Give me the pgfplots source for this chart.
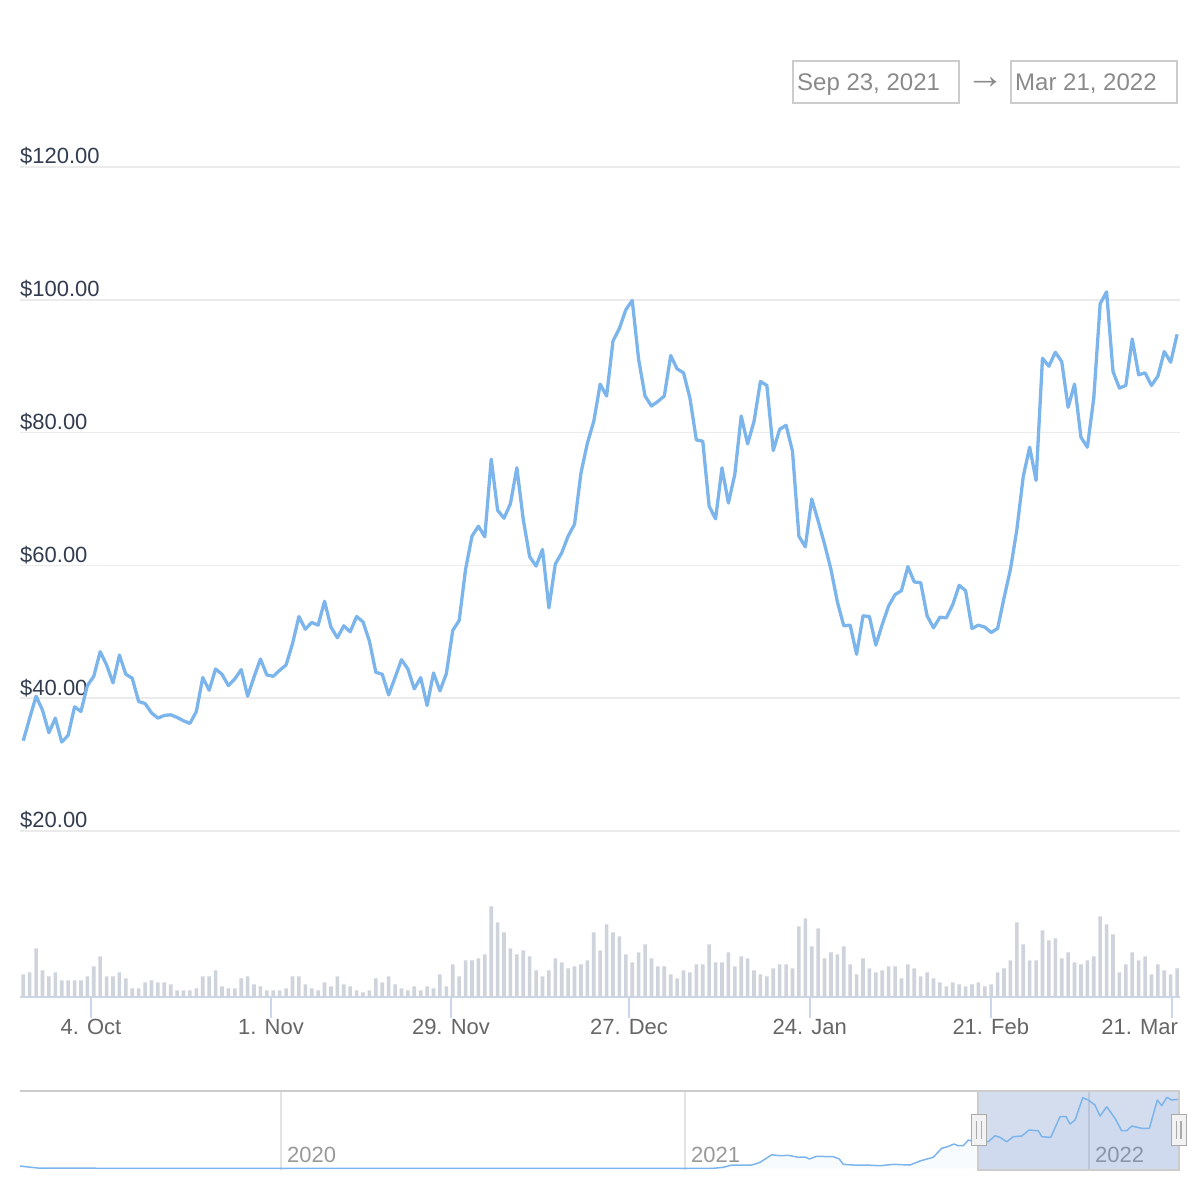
\documentclass[border=0pt]{standalone}
\usepackage{fontspec}
\setmainfont{Liberation Sans}
\usepackage{pgfplots}
\usepackage{pgfplotstable}
\pgfplotsset{compat=1.18}
\definecolor{hcblue}{HTML}{7CB5EC}
\definecolor{gridc}{HTML}{EBEBEB}
\definecolor{ylab}{HTML}{333D4F}
\definecolor{xlab}{HTML}{666666}
\definecolor{volc}{HTML}{CFD3DB}
\definecolor{axisc}{HTML}{CCD6EB}
\definecolor{boxc}{HTML}{CCCCCC}
\definecolor{datec}{HTML}{8A8A8A}
\definecolor{navgrid}{HTML}{E3E3E3}
\definecolor{navlab}{HTML}{999999}
\definecolor{navmask}{HTML}{6685C2}
\definecolor{handlef}{HTML}{F2F2F2}
\definecolor{handled}{HTML}{AAAAAA}
\newcommand\fs[1]{\fontsize{#1bp}{#1bp}\selectfont}

\pgfplotstableread{
i v
0 33.6
1 37.0
2 40.3
3 38.2
4 34.8
5 37.0
6 33.4
7 34.4
8 38.7
9 38.0
10 41.9
11 43.3
12 47.0
13 45.0
14 42.3
15 46.5
16 43.6
17 43.0
18 39.5
19 39.2
20 37.8
21 37.0
22 37.4
23 37.5
24 37.1
25 36.6
26 36.2
27 38.0
28 43.1
29 41.2
30 44.4
31 43.6
32 41.9
33 42.9
34 44.3
35 40.3
36 43.2
37 45.9
38 43.5
39 43.3
40 44.2
41 45.0
42 48.2
43 52.3
44 50.4
45 51.4
46 51.0
47 54.6
48 50.7
49 49.1
50 50.9
51 50.0
52 52.3
53 51.5
54 48.6
55 43.9
56 43.6
57 40.5
58 43.1
59 45.8
60 44.4
61 41.4
62 43.1
63 38.9
64 43.8
65 41.1
66 43.7
67 50.2
68 51.7
69 59.4
70 64.4
71 65.9
72 64.3
73 76.0
74 68.3
75 67.1
76 69.3
77 74.7
78 66.9
79 61.3
80 59.9
81 62.4
82 53.6
83 60.2
84 61.9
85 64.4
86 66.2
87 73.9
88 78.4
89 81.7
90 87.3
91 85.5
92 93.8
93 95.7
94 98.5
95 99.9
96 91.0
97 85.5
98 84.0
99 84.7
100 85.5
101 91.6
102 89.6
103 89.0
104 85.2
105 78.9
106 78.7
107 68.9
108 67.0
109 74.7
110 69.4
111 73.7
112 82.5
113 78.3
114 81.7
115 87.7
116 87.1
117 77.3
118 80.5
119 81.1
120 77.2
121 64.4
122 62.8
123 70.0
124 66.7
125 63.2
126 59.4
127 54.5
128 50.9
129 51.0
130 46.6
131 52.4
132 52.3
133 48.0
134 51.1
135 53.9
136 55.6
137 56.2
138 59.8
139 57.5
140 57.4
141 52.4
142 50.6
143 52.2
144 52.1
145 54.1
146 57.0
147 56.2
148 50.5
149 51.0
150 50.7
151 49.9
152 50.5
153 55.1
154 59.4
155 65.4
156 73.4
157 77.8
158 72.8
159 91.2
160 90.0
161 92.1
162 90.7
163 83.8
164 87.3
165 79.3
166 77.8
167 85.2
168 99.4
169 101.2
170 89.2
171 86.7
172 87.1
173 94.1
174 88.7
175 89.0
176 87.1
177 88.5
178 92.2
179 90.6
180 94.8
}\pricetable

\pgfplotstableread{
i h
0 22.7
1 24.7
2 48.7
3 26.7
4 20.7
5 24.7
6 16.7
7 16.7
8 16.7
9 16.7
10 20.7
11 30.7
12 40.7
13 20.7
14 20.7
15 24.7
16 18.7
17 8.7
18 8.7
19 14.7
20 16.7
21 14.7
22 14.7
23 12.7
24 6.7
25 6.7
26 6.7
27 8.7
28 20.7
29 20.7
30 26.7
31 10.7
32 8.7
33 8.7
34 18.7
35 20.7
36 12.7
37 10.7
38 6.7
39 6.7
40 6.7
41 8.7
42 20.7
43 20.7
44 12.7
45 8.7
46 6.7
47 14.7
48 10.7
49 20.7
50 12.7
51 10.7
52 6.7
53 4.7
54 6.7
55 18.7
56 14.7
57 20.7
58 12.7
59 8.7
60 6.7
61 10.7
62 6.7
63 10.7
64 8.7
65 22.7
66 10.7
67 32.7
68 20.7
69 36.7
70 36.7
71 38.7
72 42.7
73 90.7
74 74.7
75 64.7
76 48.7
77 42.7
78 46.7
79 40.7
80 26.7
81 20.7
82 26.7
83 38.7
84 34.7
85 28.7
86 30.7
87 32.7
88 36.7
89 64.7
90 46.7
91 72.7
92 64.7
93 60.7
94 42.7
95 34.7
96 44.7
97 52.7
98 38.7
99 30.7
100 30.7
101 22.7
102 18.7
103 26.7
104 24.7
105 32.7
106 32.7
107 52.7
108 34.7
109 34.7
110 44.7
111 30.7
112 40.7
113 38.7
114 26.7
115 22.7
116 20.7
117 28.7
118 32.7
119 32.7
120 28.7
121 70.7
122 78.7
123 50.7
124 68.7
125 38.7
126 44.7
127 42.7
128 50.7
129 32.7
130 22.7
131 38.7
132 28.7
133 24.7
134 26.7
135 30.7
136 30.7
137 18.7
138 32.7
139 28.7
140 20.7
141 24.7
142 18.7
143 14.7
144 10.7
145 14.7
146 12.7
147 10.7
148 12.7
149 14.7
150 10.7
151 12.7
152 24.7
153 28.7
154 36.7
155 74.7
156 52.7
157 36.7
158 36.7
159 66.7
160 56.7
161 58.7
162 38.7
163 44.7
164 34.7
165 32.7
166 36.7
167 40.7
168 80.7
169 72.7
170 62.7
171 24.7
172 32.7
173 44.7
174 36.7
175 40.7
176 22.7
177 32.7
178 26.7
179 22.7
180 28.7
}\voltable

\pgfplotstableread{
d v
-865.7 3.5
-848 0.4
-700 0.3
-500 0.3
-300 0.3
-269.5 0.3
-239.4 0.3
-230.4 1.7
-222.8 4.9
-212.3 4.9
-204.7 4.9
-197.2 8.7
-186.6 19.4
-179.1 18.0
-171.6 18.6
-162.6 15.8
-156.5 16.2
-152.7 13.4
-146.0 17.2
-131.0 16.6
-125.6 13.4
-122.0 5.9
-112.9 4.9
-100.8 4.9
-88.8 3.9
-76.8 5.9
-61.7 4.9
-52.7 10.6
-40.7 15.8
-33.1 28.5
-28.5 30.3
-22.0 34.5
-18.1 32.1
-13.6 32.1
-9.0 40.1
-4 38
0 36
4 38
9.0 37.7
15.1 46.2
19.6 43.9
25.7 37.7
31.6 44.8
39.2 45.8
45.8 54.2
54.2 53.2
57.3 44.8
65.4 43.9
73.8 73.0
79.2 73.0
82.8 62.7
87.4 68.3
94.3 99.7
99.4 96.5
105.4 89.4
109.9 73.9
116.0 87.0
123.5 70.7
129.5 53.2
134.1 53.2
138.6 59.9
147.6 56.6
154.5 56.6
161.7 96.5
165.7 88.5
170.2 100.3
174.7 96.5
180.7 97.5
}\navtable

\begin{document}
\begin{tikzpicture}
\path[use as bounding box] (0bp,0bp) rectangle (1200bp,1200bp);

% date range inputs
\draw[boxc, line width=2bp] (793bp,1139bp) rectangle (959bp,1097bp);
\node[anchor=base west, inner sep=0pt, text=datec, font=\fs{24}] at (797bp,1109bp) {Sep 23, 2021};
\node[anchor=center, inner sep=0pt, text=datec, font=\fs{38}] at (985bp,1117bp) {→};
\draw[boxc, line width=2bp] (1011bp,1139bp) rectangle (1177bp,1097bp);
\node[anchor=base west, inner sep=0pt, text=datec, font=\fs{24}] at (1015bp,1109bp) {Mar 21, 2022};

% price axis
\begin{axis}[at={(20bp,369bp)}, anchor=south west, scale only axis,
  width=1160bp, height=664bp,
  xmin=-0.51, xmax=180.45, ymin=20, ymax=120,
  axis line style={draw=none},
  xtick=\empty, ytick={20,40,60,80,100,120},
  ymajorgrids, grid style={color=gridc, line width=1.5bp},
  major tick length=0pt,
  /pgf/number format/assume math mode=true,
  yticklabel style={anchor=base west, inner sep=0pt, yshift=3bp, text=ylab, font=\fs{22}},
  yticklabel={\$\pgfmathprintnumber[fixed,fixed zerofill,precision=2]{\tick}},
  clip=false]
\addplot[hcblue, line width=3.3bp, line join=round, mark=none] table[x=i, y=v] {\pricetable};
\end{axis}

% volume axis
\begin{axis}[at={(20bp,203bp)}, anchor=south west, scale only axis,
  width=1160bp, height=127bp,
  xmin=-0.51, xmax=180.45, ymin=0, ymax=127,
  axis x line*=bottom, axis y line=none,
  axis line style={-},
  x axis line style={color=axisc, line width=2bp},
  xtick={10.56,38.64,66.72,94.49,122.7,150.94,179.2},
  xticklabels={4. Oct,1. Nov,29. Nov,27. Dec,24. Jan,21. Feb,\makebox[12bp][r]{21. Mar}},
  xtick align=outside, major tick length=21bp,
  tick style={color=axisc, line width=1.5bp},
  xticklabel style={text=xlab, font=\fs{22}, text height=16bp, text depth=4bp, yshift=3bp},
  clip=false]
\addplot[ybar, bar width=3.6bp, fill=volc, draw=none] table[x=i, y=h] {\voltable};
\end{axis}

% navigator
\begin{axis}[at={(20bp,30bp)}, anchor=south west, scale only axis,
  width=1160bp, height=79bp,
  xmin=-865.7, xmax=182.2, ymin=-2.1, ymax=109.2,
  axis line style={draw=none},
  ytick=\empty, xtick={-630,-265,100}, xticklabels={2020,2021,2022},
  xmajorgrids, grid style={color=navgrid, line width=1.5bp},
  major tick length=0pt,
  xticklabel style={anchor=base west, inner sep=0pt, xshift=6bp, yshift=8bp, text=navlab, font=\fs{22}},
  clip=false]
\fill[navmask, fill opacity=0.28] (axis cs:0,-2.1) rectangle (axis cs:181.3,109.2);
\addplot[draw=none, fill=hcblue, fill opacity=0.06] table[x=d, y=v] {\navtable} \closedcycle;
\addplot[hcblue, line width=1.5bp, line join=round, mark=none] table[x=d, y=v] {\navtable};
\draw[boxc, line width=2bp] (axis cs:-865.7,109.2) -- (axis cs:182.2,109.2);
\draw[boxc, line width=2bp] (axis cs:0,109.2) -- (axis cs:0,-2.1) -- (axis cs:181.3,-2.1) -- (axis cs:181.3,109.2);
\draw[fill=handlef, draw=handled, line width=1.3bp] ([xshift=-7.5bp,yshift=-15.5bp]axis cs:0.6,54.6) rectangle ([xshift=7.5bp,yshift=15.5bp]axis cs:0.6,54.6);
\draw[handled, line width=1.2bp] ([xshift=-2.2bp,yshift=-9bp]axis cs:0.6,54.6) -- ([xshift=-2.2bp,yshift=9bp]axis cs:0.6,54.6);
\draw[handled, line width=1.2bp] ([xshift=2.2bp,yshift=-9bp]axis cs:0.6,54.6) -- ([xshift=2.2bp,yshift=9bp]axis cs:0.6,54.6);
\draw[fill=handlef, draw=handled, line width=1.3bp] ([xshift=-7.5bp,yshift=-15.5bp]axis cs:181.0,54.6) rectangle ([xshift=7.5bp,yshift=15.5bp]axis cs:181.0,54.6);
\draw[handled, line width=1.2bp] ([xshift=-2.2bp,yshift=-9bp]axis cs:181.0,54.6) -- ([xshift=-2.2bp,yshift=9bp]axis cs:181.0,54.6);
\draw[handled, line width=1.2bp] ([xshift=2.2bp,yshift=-9bp]axis cs:181.0,54.6) -- ([xshift=2.2bp,yshift=9bp]axis cs:181.0,54.6);
\end{axis}
\end{tikzpicture}
\end{document}
